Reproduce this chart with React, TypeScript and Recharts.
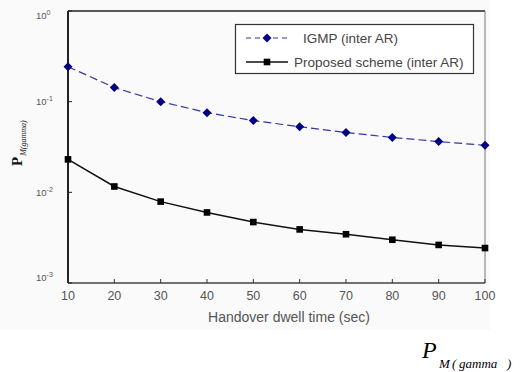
import React from 'react';
import { LineChart, Line, XAxis, YAxis, ReferenceLine, Customized } from 'recharts';

const dwellTimes = [10, 20, 30, 40, 50, 60, 70, 80, 90, 100];
const igmpValues = [0.243, 0.143, 0.1, 0.0757, 0.0618, 0.053, 0.0457, 0.0403, 0.0363, 0.033];
const proposedValues = [0.0231, 0.0116, 0.0079, 0.006, 0.0047, 0.0039, 0.00345, 0.003, 0.00263, 0.00243];
const yTicks = [0.001, 0.01, 0.1, 1];
const xLabel = 'Handover dwell time (sec)';
const seriesNames = ['IGMP (inter AR)', 'Proposed scheme (inter AR)'];

const data = dwellTimes.map((t, i) => ({ t, igmp: igmpValues[i], proposed: proposedValues[i] }));

const NAVY = '#000080';
const DASH_BLUE = '#3535a5';

const Diamond = (props: any) => {
  const { cx, cy, index } = props;
  if (cx == null || cy == null) return <g key={`dm-${index}`} />;
  const r = 4.5;
  return (
    <path
      key={`dm-${index}`}
      d={`M${cx},${cy - r}L${cx + r},${cy}L${cx},${cy + r}L${cx - r},${cy}Z`}
      fill={NAVY}
    />
  );
};

const Square = (props: any) => {
  const { cx, cy, index } = props;
  if (cx == null || cy == null) return <g key={`sq-${index}`} />;
  const s = 3.3;
  return <rect key={`sq-${index}`} x={cx - s} y={cy - s} width={2 * s} height={2 * s} fill="#000" />;
};

const XTick = (props: any) => {
  const { x, y, payload } = props;
  return (
    <g>
      <line x1={x} x2={x} y1={y} y2={y - 4} stroke="#333" strokeWidth={1} />
      <text x={x} y={y + 16.5} textAnchor="middle" fontSize={12.5} fill="#555" fontFamily="Arial, 'Liberation Sans', sans-serif">
        {payload.value}
      </text>
    </g>
  );
};

const YTick = (props: any) => {
  const { x, y, payload } = props;
  const exp = Math.round(Math.log10(payload.value));
  const dy = exp === 0 ? 4 : exp === -3 ? -6 : 0;
  return (
    <g>
      <line x1={x} x2={x + 4} y1={y} y2={y} stroke="#222" strokeWidth={1} />
      <text x={x - 32} y={y + dy + 3.5} fontSize={9.5} fill="#555" fontFamily="Arial, 'Liberation Sans', sans-serif">
        10
        <tspan dy={-4} fontSize={7}>{`${exp}`}</tspan>
      </text>
    </g>
  );
};

const Overlay = () => (
  <g>
    {/* legend */}
    <rect x={235.5} y={24.5} width={238} height={49} fill="#fff" stroke="#333" strokeWidth={1.2} />
    <line x1={246} x2={288} y1={38} y2={38} stroke={DASH_BLUE} strokeWidth={1.2} strokeDasharray="5 4" />
    <path d="M267,33.5L271.5,38L267,42.5L262.5,38Z" fill={NAVY} />
    <text x={303} y={42.5} fontSize={13.5} fill="#444" fontFamily="Arial, 'Liberation Sans', sans-serif">
      {seriesNames[0]}
    </text>
    <line x1={246} x2={288} y1={62} y2={62} stroke="#111" strokeWidth={1.5} />
    <rect x={263.7} y={58.7} width={6.6} height={6.6} fill="#000" />
    <text x={294} y={66.5} fontSize={13.5} fill="#444" fontFamily="Arial, 'Liberation Sans', sans-serif">
      {seriesNames[1]}
    </text>
    {/* x axis label */}
    <text x={289} y={322} textAnchor="middle" fontSize={14} fill="#555" fontFamily="Arial, 'Liberation Sans', sans-serif">
      {xLabel}
    </text>
    {/* y axis label */}
    <text
      x={22}
      y={166}
      transform="rotate(-90, 22, 166)"
      fontFamily="'Times New Roman', 'Liberation Serif', serif"
      fill="#111"
    >
      <tspan fontSize={15} fontWeight="bold">P</tspan>
      <tspan dy={4} dx={1} fontSize={8} fontStyle="italic">M(gamma)</tspan>
    </text>
    {/* bottom right label */}
    <g fontFamily="'Times New Roman', 'Liberation Serif', serif" fill="#000" fontStyle="italic">
      <text x={422} y={358} fontSize={24}>P</text>
      <text x={439} y={368} fontSize={13}>M</text>
      <text x={452} y={368} fontSize={13}>(</text>
      <text x={459} y={368} fontSize={13}>gamma</text>
      <text x={507} y={368} fontSize={13}>)</text>
    </g>
  </g>
);

export default function App() {
  return (
    <div style={{ position: 'absolute', left: 0, top: 0, width: 525, height: 372, background: '#fff' }}>
      <div style={{ position: 'absolute', left: 0, top: 0, width: 490, height: 330, background: '#fafafa' }} />
      <div style={{ position: 'absolute', left: 0, top: 0 }}>
        <LineChart width={525} height={372} data={data} margin={{ top: 11, right: 40, bottom: 59, left: 0 }}>
          <XAxis
            dataKey="t"
            type="number"
            domain={[10, 100]}
            ticks={dwellTimes}
            height={30}
            tickSize={0}
            tickMargin={0}
            tickLine={false}
            axisLine={{ stroke: '#444', strokeWidth: 1.5 }}
            tick={<XTick />}
            interval={0}
          />
          <YAxis
            scale="log"
            domain={[0.001, 1]}
            allowDataOverflow
            ticks={yTicks}
            width={68}
            tickSize={0}
            tickMargin={0}
            tickLine={false}
            axisLine={{ stroke: '#222', strokeWidth: 2 }}
            tick={<YTick />}
            interval={0}
          />
          <ReferenceLine y={1} stroke="#222" strokeWidth={1.5} ifOverflow="visible" />
          <ReferenceLine x={100} stroke="#777" strokeWidth={1} ifOverflow="visible" />
          <Line
            type="linear"
            dataKey="igmp"
            stroke={DASH_BLUE}
            strokeWidth={1.2}
            strokeDasharray="8 4"
            dot={<Diamond />}
            activeDot={false}
            isAnimationActive={false}
          />
          <Line
            type="linear"
            dataKey="proposed"
            stroke="#111"
            strokeWidth={1.5}
            dot={<Square />}
            activeDot={false}
            isAnimationActive={false}
          />
          <Customized component={<Overlay />} />
        </LineChart>
      </div>
    </div>
  );
}
